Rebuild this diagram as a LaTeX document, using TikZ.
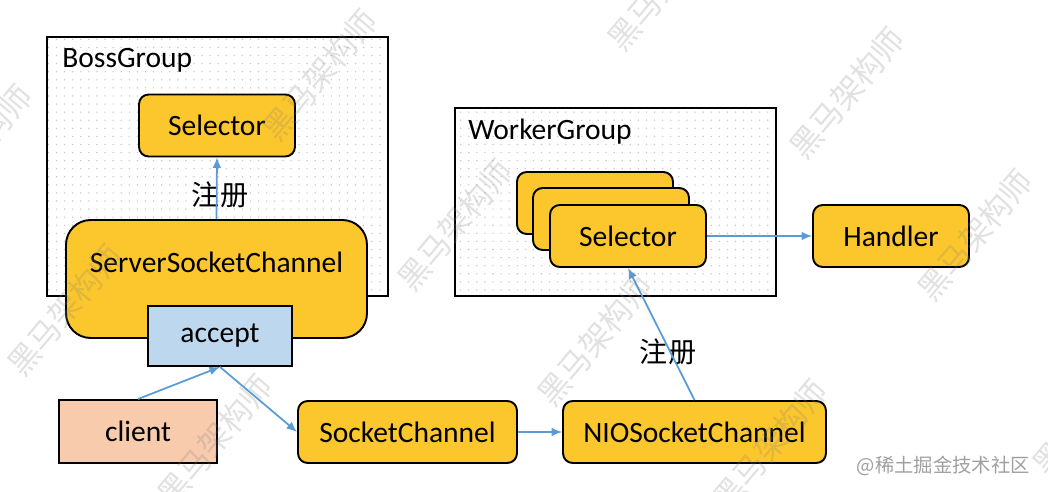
\documentclass[tikz,border=0pt]{standalone}
\usepackage{fontspec}
\setmainfont{Carlito}
\newfontfamily\cjk{Noto Sans CJK SC}
\usetikzlibrary{arrows.meta}
\usetikzlibrary{patterns.meta}

\definecolor{boxyellow}{RGB}{252,199,44}
\definecolor{acceptblue}{RGB}{189,215,238}
\definecolor{clientpink}{RGB}{248,203,173}
\definecolor{flowblue}{RGB}{91,155,213}

\tikzdeclarepattern{
	name=sparsedots,
	type=uncolored,
	bounding box={(-1pt,-1pt) and (1pt,1pt)},
	tile size={(4.6pt,4.6pt)},
	code={\fill (0,0) circle (0.45pt);}
}

\tikzset{
	ybox/.style={draw=black, line width=1.1pt, fill=boxyellow, rounded corners=5.5pt,
		minimum width=3.12cm, minimum height=1.24cm, inner sep=0pt, font=\fontsize{16.8}{19}\selectfont},
	groupbox/.style={draw=black, line width=1.1pt, pattern=sparsedots, pattern color=gray!45, inner sep=0pt},
	grouplabel/.style={anchor=west, inner sep=0pt, font=\fontsize{16.8}{19}\selectfont},
	flow/.style={draw=flowblue, line width=1pt, -{Latex[length=6pt,width=5pt]}},
	reglabel/.style={font=\cjk\fontsize{16}{18}\selectfont},
	wmark/.style={text=gray, opacity=0.24, rotate=50, font=\cjk\fontsize{18}{20}\selectfont},
}

\begin{document}
\begin{tikzpicture}[x=0.02cm, y=-0.02cm]
	\useasboundingbox (0,0) rectangle (1048,492);
	% groups
	\node[groupbox, minimum width=6.82cm, minimum height=5.18cm] (boss) at (217.5,166.5) {};
	\node[grouplabel] (bosslabel) at (62,60) {BossGroup};
	\node[groupbox, minimum width=6.42cm, minimum height=3.76cm] (worker) at (615.5,202) {};
	\node[grouplabel] (workerlabel) at (468,132) {WorkerGroup};

	% boss side
	\node[ybox] (bsel) at (217,125.5) {Selector};
	\node[ybox, rounded corners=14pt, minimum width=6.02cm, minimum height=2.36cm] (ssc) at (216.5,279) {};
	\node[font=\fontsize{16.8}{19}\selectfont] (ssclabel) at (216.5,262) {ServerSocketChannel};
	\node[ybox, rounded corners=0pt, fill=acceptblue, minimum width=2.88cm, minimum height=1.2cm] (accept) at (220,336) {accept};
	\node[reglabel] (reg1) at (220,195) {注册};

	% worker side
	\foreach \i/\dx in {back/0, mid/16, front/33} {
		\node[ybox] (wsel\i) at (595+\dx,203+\dx) {};
	}
	\node[font=\fontsize{16.8}{19}\selectfont] (wsellabel) at (wselfront) {Selector};
	\node[ybox] (handler) at (891,236) {Handler};
	\node[reglabel] (reg2) at (668,352) {注册};

	% bottom row
	\node[ybox, rounded corners=0pt, fill=clientpink, minimum width=3.16cm, minimum height=1.26cm] (client) at (138,431.5) {client};
	\node[ybox, minimum width=4.38cm] (sc) at (407.5,432) {SocketChannel};
	\node[ybox, minimum width=5.26cm] (nio) at (694.5,432) {NIOSocketChannel};

	% connectors
	\draw[flow] (ssc.north) -- (bsel.south);
	\draw[flow] (client.north) -- (accept.south);
	\draw[flow] (accept.south) -- (sc.west);
	\draw[flow] (sc.east) -- (nio.west);
	\draw[flow] (nio.north) -- (wselfront.south);
	\draw[flow] (wselfront.east) -- (handler.west);

	% watermark
	\foreach \wx/\wy in {320/75, 455/225, 65/310, 215/440, 595/340, 770/445, 847/93, 975/235, 665/-15, -25/150, 1090/410} {
		\node[wmark] (wm\wx) at (\wx,\wy) {黑马架构师};
	}
	\node[anchor=east, text=gray!75, inner sep=0pt, font=\cjk\fontsize{11}{13}\selectfont] (credit) at (1030,466) {@稀土掘金技术社区};
\end{tikzpicture}
\end{document}
